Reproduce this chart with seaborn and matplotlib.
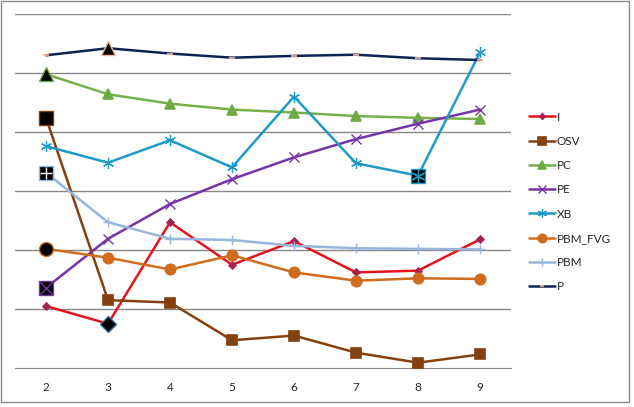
import matplotlib
matplotlib.use('Agg')
from matplotlib import pyplot as plt
from matplotlib.patches import Rectangle
import seaborn as sns
import pandas as pd

sns.set_style('white')
plt.rcParams['font.family'] = ['Lato', 'DejaVu Sans']
plt.rcParams['font.size'] = 8.5

steps = [2, 3, 4, 5, 6, 7, 8, 9]
series = ['I', 'OSV', 'PC', 'PE', 'XB', 'PBM_FVG', 'PBM', 'P']

i_vals = [1.05, 0.75, 2.47, 1.75, 2.15, 1.62, 1.65, 2.18]
osv_vals = [4.24, 1.15, 1.11, 0.47, 0.55, 0.26, 0.09, 0.23]
pc_vals = [4.98, 4.64, 4.48, 4.38, 4.33, 4.27, 4.24, 4.22]
pe_vals = [1.36, 2.19, 2.78, 3.20, 3.57, 3.88, 4.14, 4.38]
xb_vals = [3.76, 3.48, 3.86, 3.40, 4.60, 3.47, 3.26, 5.35]
pbm_fvg_vals = [2.02, 1.87, 1.67, 1.91, 1.62, 1.48, 1.52, 1.51]
pbm_vals = [3.31, 2.47, 2.19, 2.17, 2.07, 2.03, 2.02, 2.01]
p_vals = [5.30, 5.42, 5.33, 5.26, 5.29, 5.31, 5.25, 5.22]

# best point of each series (index into steps), drawn in black
best_idx = [1, 0, 0, 0, 6, 0, 0, 1]

values = [i_vals, osv_vals, pc_vals, pe_vals, xb_vals, pbm_fvg_vals, pbm_vals, p_vals]

style = {
    'I':       dict(color='#E3141E', marker='D', ms=3.5, mec='#A8234F', mew=1.2, hl='D'),
    'OSV':     dict(color='#84400F', marker='s', ms=7, mec='#84400F', mew=1.2, hl='s'),
    'PC':      dict(color='#77B04B', marker='^', ms=7.5, mec='#6FAB44', mew=1.2, hl='^'),
    'PE':      dict(color='#7535A6', marker='x', ms=7, mec='#7535A6', mew=1.0, hl='s'),
    'XB':      dict(color='#1F9AC6', marker=(6, 2, 0), ms=8, mec='#1F9AC6', mew=0.9, hl='s'),
    'PBM_FVG': dict(color='#CF6C1E', marker='o', ms=7.5, mec='#CF6C1E', mew=1.2, hl='o'),
    'PBM':     dict(color='#99B6DA', marker='+', ms=7, mec='#99B6DA', mew=1.0, hl='s'),
    'P':       dict(color='#0F2352', marker='_', ms=4, mec='#F0B899', mew=1.2, hl='^'),
}

fig = plt.figure(figsize=(6.34, 4.07), dpi=100)
ax = fig.add_axes([15 / 634, (407 - 368) / 407, 496 / 634, 354 / 407])

for name, vals, bi in zip(series, values, best_idx):
    st = style[name]
    df = pd.DataFrame({'step': steps, 'value': vals})
    sns.lineplot(df, x='step', y='value', ax=ax, color=st['color'], lw=1.8,
                 marker=st['marker'], markersize=st['ms'], markerfacecolor=st['mec'],
                 markeredgecolor=st['mec'], markeredgewidth=st['mew'], label=name, zorder=3)
    # highlight
    ax.plot(steps[bi], vals[bi], linestyle='none', marker=st['hl'], markersize=10 if st['hl'] != 'D' else 8,
            markerfacecolor='black', markeredgecolor=st['mec'] if name != 'I' else '#2E6E9E',
            markeredgewidth=1, zorder=5)
    if st['marker'] in ('x', '+') or name == 'XB':
        mc = 'white' if name == 'PBM' else st['mec']
        ax.plot(steps[bi], vals[bi], linestyle='none', marker=st['marker'], markersize=st['ms'] + 2,
                markeredgecolor=mc, markeredgewidth=st['mew'], zorder=6)

ax.set_xlim(1.5, 9.5)
ax.set_ylim(0, 6)
ax.set_yticks([1, 2, 3, 4, 5, 6])
ax.yaxis.grid(True, color='#888888', lw=1)
ax.set_yticklabels([])
ax.tick_params(axis='y', length=0)
ax.set_xticks(steps, [str(s) for s in steps])
ax.set_xticks([s - 0.5 for s in steps] + [9.5], minor=True)
ax.tick_params(axis='x', which='major', length=0, pad=10, labelsize=8.5)
ax.tick_params(axis='x', which='minor', length=5, width=1, color='#888888', direction='out')
for side in ['top', 'right', 'left']:
    ax.spines[side].set_visible(False)
ax.spines['bottom'].set_color('#888888')
ax.set_xlabel(None)
ax.set_ylabel(None)

handles, labels = ax.get_legend_handles_labels()
ax.get_legend().remove()
fig.legend(handles, labels, loc='upper left', bbox_to_anchor=(518 / 634, 1 - 101 / 407),
           frameon=False, fontsize=8.5, handlelength=2.2, handletextpad=0.2, labelspacing=1.12,
           markerscale=0.8)

fig.patches.append(Rectangle((1 / 634, 5 / 407), 628 / 634, 401 / 407, transform=fig.transFigure,
                             fill=False, edgecolor='#8A8A8A', lw=1))

plt.savefig('out.png', dpi=100)
